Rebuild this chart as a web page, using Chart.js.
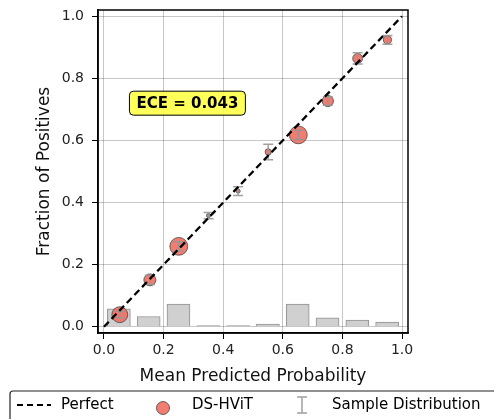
<!DOCTYPE html>
<html>
<head>
<meta charset="utf-8">
<script src="https://cdn.jsdelivr.net/npm/chart.js@4.4.1/dist/chart.umd.min.js"></script>
<style>
  html, body { margin: 0; padding: 0; background: #fff; }
  #wrap { width: 494px; height: 419px; }
</style>
</head>
<body>
<div id="wrap"><canvas id="calib"></canvas></div>
<script>
// --- Data ---
const binCenters = [0.05, 0.15, 0.25, 0.35, 0.45, 0.55, 0.65, 0.75, 0.85, 0.95];
const meanPred   = [0.053, 0.154, 0.251, 0.351, 0.450, 0.551, 0.652, 0.751, 0.851, 0.951];
const fracPos    = [0.039, 0.151, 0.259, 0.358, 0.437, 0.563, 0.618, 0.727, 0.864, 0.924];
const fracErr    = [0.010, 0.015, 0.015, 0.010, 0.014, 0.025, 0.015, 0.014, 0.018, 0.014];
const sampleDist = [0.058, 0.033, 0.073, 0.004, 0.004, 0.009, 0.073, 0.029, 0.022, 0.015];
const perfectX   = [0, 1];
const tickValues = [0, 0.2, 0.4, 0.6, 0.8, 1.0];
const eceText    = 'ECE = 0.043';

const FONT = "'DejaVu Sans', sans-serif";
const SALMON = 'rgba(240, 110, 95, 0.9)';

// error bars, drawn right after the scatter dataset
const errorBars = {
    id: 'errorBars',
    afterDatasetDraw(chart, args) {
        if (args.index !== 1) return;
        const { ctx, scales: { x, y } } = chart;
        ctx.save();
        ctx.strokeStyle = 'rgba(150,150,150,0.9)';
        ctx.lineWidth = 1.5;
        meanPred.forEach((m, i) => {
            const px = x.getPixelForValue(m);
            const y1 = y.getPixelForValue(fracPos[i] - fracErr[i]);
            const y2 = y.getPixelForValue(fracPos[i] + fracErr[i]);
            ctx.beginPath();
            ctx.moveTo(px, y1); ctx.lineTo(px, y2);
            ctx.moveTo(px - 5, y1); ctx.lineTo(px + 5, y1);
            ctx.moveTo(px - 5, y2); ctx.lineTo(px + 5, y2);
            ctx.stroke();
        });
        ctx.restore();
    }
};

// frame, ECE box and legend
const extras = {
    id: 'extras',
    afterDraw(chart) {
        const { ctx, chartArea: a, scales: { x, y } } = chart;
        ctx.save();
        // full frame
        ctx.strokeStyle = '#000';
        ctx.lineWidth = 1.5;
        ctx.strokeRect(a.left, a.top, a.right - a.left, a.bottom - a.top);

        // ECE box
        ctx.font = 'bold 15px ' + FONT;
        const cx = x.getPixelForValue(0.28), cy = y.getPixelForValue(0.72);
        const tw = ctx.measureText(eceText).width;
        const bw = tw + 14, bh = 24;
        ctx.beginPath();
        ctx.roundRect(cx - bw / 2, cy - bh / 2, bw, bh, 4);
        ctx.fillStyle = 'rgba(255,255,60,0.85)';
        ctx.fill();
        ctx.lineWidth = 1;
        ctx.strokeStyle = '#000';
        ctx.stroke();
        ctx.fillStyle = '#000';
        ctx.textAlign = 'center';
        ctx.textBaseline = 'middle';
        ctx.fillText(eceText, cx, cy + 1);

        // legend
        ctx.beginPath();
        ctx.roundRect(10, 391, 500, 40, 3);
        ctx.lineWidth = 1.2;
        ctx.strokeStyle = '#222';
        ctx.stroke();
        ctx.font = '15px ' + FONT;
        ctx.textAlign = 'left';
        ctx.fillStyle = '#000';
        const ly = 405;
        ctx.beginPath();
        ctx.setLineDash([6, 4]);
        ctx.lineWidth = 2;
        ctx.strokeStyle = '#000';
        ctx.moveTo(17, ly); ctx.lineTo(51, ly);
        ctx.stroke();
        ctx.setLineDash([]);
        ctx.fillText('Perfect', 61, ly);

        ctx.beginPath();
        ctx.arc(163, ly + 3, 6.5, 0, Math.PI * 2);
        ctx.fillStyle = SALMON;
        ctx.fill();
        ctx.strokeStyle = 'rgba(70,70,70,0.8)';
        ctx.lineWidth = 1;
        ctx.stroke();
        ctx.fillStyle = '#000';
        ctx.fillText('DS-HViT', 192, ly);

        ctx.strokeStyle = 'rgba(150,150,150,0.9)';
        ctx.lineWidth = 1.5;
        ctx.beginPath();
        ctx.moveTo(302, 397); ctx.lineTo(302, 413);
        ctx.moveTo(297, 397); ctx.lineTo(307, 397);
        ctx.moveTo(297, 413); ctx.lineTo(307, 413);
        ctx.stroke();
        ctx.fillText('Sample Distribution', 332, ly);
        ctx.restore();
    }
};

const noEdgePad = s => { s.paddingTop = 0; s.paddingBottom = 0; s.paddingLeft = 0; s.paddingRight = 0; };

const ctx = document.getElementById('calib').getContext('2d');
new Chart(ctx, {
    data: {
        datasets: [
            {
                type: 'bar',
                label: 'Sample Distribution',
                data: binCenters.map((c, i) => ({ x: c, y: sampleDist[i] })),
                backgroundColor: 'rgba(205,205,205,0.95)',
                borderColor: 'rgba(120,120,120,0.8)',
                borderWidth: 1,
                barThickness: 23,
                order: 4
            },
            {
                type: 'scatter',
                label: 'DS-HViT',
                data: meanPred.map((m, i) => ({ x: m, y: fracPos[i] })),
                backgroundColor: SALMON,
                borderColor: 'rgba(70,70,70,0.8)',
                borderWidth: 1,
                pointRadius: c => 33 * Math.sqrt(sampleDist[c.dataIndex] || 0),
                order: 3
            },
            {
                type: 'line',
                label: 'Perfect',
                data: perfectX.map(v => ({ x: v, y: v })),
                borderColor: '#000',
                borderWidth: 2.3,
                borderDash: [7, 4],
                pointRadius: 0,
                fill: false,
                order: 1
            }
        ]
    },
    options: {
        responsive: true,
        maintainAspectRatio: false,
        animation: false,
        layout: { padding: { left: 0, right: 86, top: 10, bottom: 30 } },
        plugins: { legend: { display: false }, tooltip: { enabled: false } },
        scales: {
            x: {
                type: 'linear',
                offset: false,
                min: -0.02, max: 1.02,
                afterBuildTicks: s => { s.ticks = tickValues.map(v => ({ value: v })); },
                afterFit: s => { s.height = 56; noEdgePad(s); },
                ticks: {
                    callback: v => v.toFixed(1),
                    font: { family: FONT, size: 14 },
                    color: '#222',
                    padding: 3,
                    maxRotation: 0
                },
                grid: { offset: false, color: 'rgba(0,0,0,0.22)', tickColor: '#000', tickLength: 6 },
                border: { color: '#000', width: 1.5 },
                title: {
                    display: true,
                    text: 'Mean Predicted Probability',
                    font: { family: FONT, size: 17 },
                    color: '#111',
                    padding: { top: 0, bottom: 2 }
                }
            },
            y: {
                type: 'linear',
                min: -0.02, max: 1.02,
                afterBuildTicks: s => { s.ticks = tickValues.map(v => ({ value: v })); },
                afterFit: s => { s.width = 98; noEdgePad(s); },
                ticks: {
                    callback: v => v.toFixed(1),
                    font: { family: FONT, size: 14 },
                    color: '#222',
                    padding: 8
                },
                grid: { color: 'rgba(0,0,0,0.22)', tickColor: '#000', tickLength: 6 },
                border: { color: '#000', width: 1.5 },
                title: {
                    display: true,
                    text: 'Fraction of Positives',
                    font: { family: FONT, size: 17 },
                    color: '#111',
                    padding: { top: 34, bottom: 0 }
                }
            }
        }
    },
    plugins: [errorBars, extras]
});
</script>
</body>
</html>
